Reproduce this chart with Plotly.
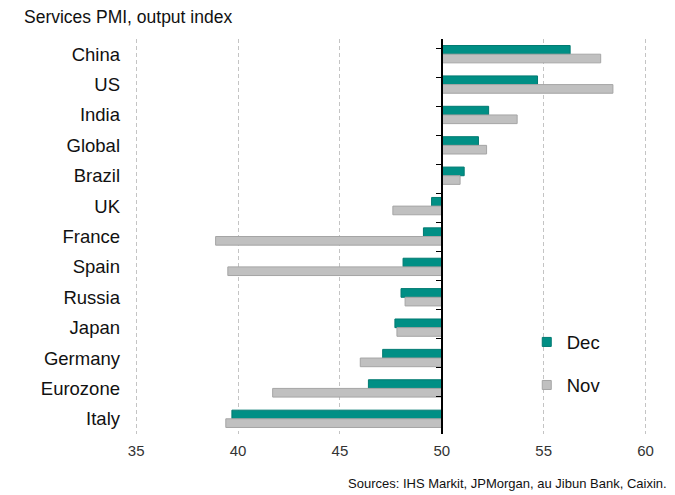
import plotly.graph_objects as go

countries = ["China", "US", "India", "Global", "Brazil", "UK", "France", "Spain",
             "Russia", "Japan", "Germany", "Eurozone", "Italy"]
dec = [56.3, 54.7, 52.3, 51.8, 51.1, 49.5, 49.1, 48.1, 48.0, 47.7, 47.1, 46.4, 39.7]
nov = [57.8, 58.4, 53.7, 52.2, 50.9, 47.6, 38.9, 39.5, 48.2, 47.8, 46.0, 41.7, 39.4]
x_ticks = [35, 40, 45, 50, 55, 60]
base_level = 50

xmin, xmax = 34.6, 61.3
dec_color, dec_edge = "#008F85", "#007A71"
nov_color, nov_edge = "#C0C0C0", "#A5A5A5"

fig = go.Figure()
fig.add_trace(go.Bar(
    y=countries, x=[v - base_level for v in dec], base=base_level, orientation="h",
    name="Dec", showlegend=False,
    marker=dict(color=dec_color, line=dict(color=dec_edge, width=1)),
))
fig.add_trace(go.Bar(
    y=countries, x=[v - base_level for v in nov], base=base_level, orientation="h",
    name="Nov", showlegend=False,
    marker=dict(color=nov_color, line=dict(color=nov_edge, width=1)),
))
# legend entries (small square keys)
fig.add_trace(go.Scatter(x=[None], y=[None], mode="markers", name="Dec", legendgroup="a",
                         marker=dict(symbol="square", size=9, color=dec_color,
                                     line=dict(color=dec_edge, width=1))))
fig.add_trace(go.Scatter(x=[None], y=[None], mode="markers", name="Nov", legendgroup="b",
                         marker=dict(symbol="square", size=9, color=nov_color,
                                     line=dict(color=nov_edge, width=1))))
# dummy trace for the axis line at 50
fig.add_trace(go.Scatter(y=countries, x=[base_level] * len(countries), yaxis="y2",
                         mode="markers", marker=dict(opacity=0), showlegend=False,
                         hoverinfo="skip"))

fig.update_layout(
    width=675, height=495,
    margin=dict(l=128, r=3, t=39, b=61),
    paper_bgcolor="white", plot_bgcolor="white",
    barmode="group", bargap=0.43, bargroupgap=0,
    font=dict(family="Liberation Sans, Arial, sans-serif", color="#1a1a1a"),
    xaxis=dict(range=[xmin, xmax], tickvals=x_ticks, showgrid=True,
               gridcolor="#C4C4C4", griddash="4px,3px", gridwidth=1,
               zeroline=False, showline=False, ticks="",
               tickfont=dict(size=15, color="#333333"), ticklabelstandoff=6),
    yaxis=dict(categoryorder="array", categoryarray=countries, autorange="reversed",
               showgrid=False, zeroline=False, showline=False, ticks="",
               tickfont=dict(size=18.5, color="#111111"), ticklabelstandoff=7),
    yaxis2=dict(overlaying="y", anchor="free",
                position=(base_level - xmin) / (xmax - xmin),
                categoryorder="array", categoryarray=countries, autorange="reversed",
                showline=True, linecolor="black", linewidth=1.5,
                ticks="outside", tickson="boundaries", ticklen=5, tickcolor="black",
                showticklabels=False, showgrid=False, zeroline=False),
    legend=dict(x=0.733, y=0.28, xanchor="left", yanchor="top",
                font=dict(size=18.5, color="#111111"), tracegroupgap=16,
                bgcolor="rgba(0,0,0,0)", itemwidth=30),
    annotations=[
        dict(text="Services PMI, output index", x=0, y=1, xref="paper", yref="paper",
             xshift=-106, yshift=34, xanchor="left", yanchor="top", showarrow=False,
             font=dict(size=17.5, color="#111111")),
        dict(text="Sources: IHS Markit, JPMorgan, au Jibun Bank, Caixin.", x=1, y=0,
             xref="paper", yref="paper", xanchor="right", yanchor="bottom",
             xshift=-3, yshift=-59, showarrow=False,
             font=dict(size=13, color="#111111")),
    ],
)

fig.write_html("out.html")
